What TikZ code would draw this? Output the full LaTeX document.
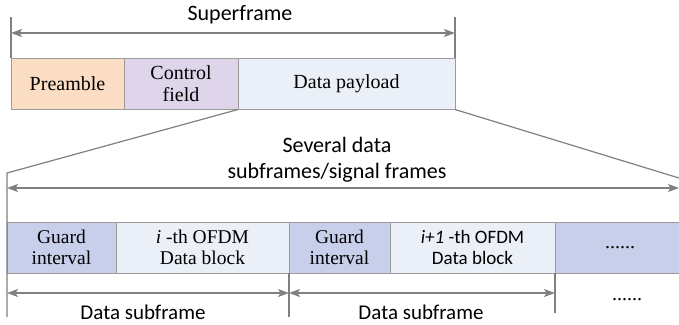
\documentclass[tikz,border=0pt]{standalone}
\usepackage{fontspec}
\setmainfont{Liberation Serif}
\newfontfamily\calib{Carlito}
\usetikzlibrary{arrows.meta}

\definecolor{preamblefill}{RGB}{251,221,196}
\definecolor{controlfill}{RGB}{222,213,235}
\definecolor{payloadfill}{RGB}{235,240,248}
\definecolor{guardfill}{RGB}{200,207,234}
\definecolor{boxline}{RGB}{155,155,155}
\definecolor{dimline}{RGB}{128,128,128}

\tikzset{
  field/.style={draw=boxline, line width=0.9pt, inner sep=0pt, outer sep=0pt,
    align=center, font=\fontsize{20}{22}\selectfont},
  dimension/.style={draw=dimline, line width=1.4pt,
    {Stealth[length=11pt,width=8pt,inset=2.5pt]}-{Stealth[length=11pt,width=8pt,inset=2.5pt]}},
  guide/.style={draw=dimline, line width=1.2pt},
  sanslabel/.style={font=\calib\fontsize{22}{26}\selectfont, align=center, inner sep=0pt},
}

\begin{document}
\begin{tikzpicture}[x=1pt, y=-1pt]
  \useasboundingbox (0,0) rectangle (679,324);
  \clip (0,0) rectangle (679,324);

  % superframe fields
  \node[field, fill=preamblefill, minimum width=113pt, minimum height=51.5pt] (pre) at (67.5,83.75) {Preamble};
  \node[field, fill=controlfill, minimum width=114pt, minimum height=51.5pt] (ctrl) at (181,83.75) {Control\\field};
  \node[field, fill=payloadfill, minimum width=217pt, minimum height=51.5pt] (pay) at (346.5,83.75) {Data payload};

  % superframe extent
  \coordinate (sl) at (11,17);
  \coordinate (sr) at (455,17);
  \draw[guide] (sl) -- (pre.north west);
  \draw[guide] (sr) -- (pay.north east);
  \coordinate (al) at (11,33);
  \coordinate (ar) at (455,33);
  \draw[dimension] (al) -- (ar);
  \node[sanslabel] (suptxt) at (240,15) {Superframe};

  % data subframes
  \node[field, fill=guardfill, minimum width=109pt, minimum height=51pt, font=\fontsize{19.5}{21}\selectfont] (g1) at (61.5,247.5) {Guard\\interval};
  \node[field, fill=payloadfill, minimum width=173pt, minimum height=51pt, font=\fontsize{19.5}{21}\selectfont] (d1) at (202.5,247.5) {\textit{i} -th OFDM\\Data block};
  \node[field, fill=guardfill, minimum width=101pt, minimum height=51pt, font=\fontsize{19.5}{21}\selectfont] (g2) at (339.5,247.5) {Guard\\interval};
  \node[field, fill=payloadfill, minimum width=165pt, minimum height=51pt, font=\calib\fontsize{19}{21}\selectfont] (d2) at (472.5,247.5) {\textit{i+1} -th OFDM\\Data block};
  \node[field, fill=guardfill, minimum width=130pt, minimum height=51pt] (more) at (620,247.5) {......};

  % zoom-out lines from the payload
  \coordinate (fl) at (7,173);
  \coordinate (fr) at (679,178);
  \coordinate (lb) at (7,317);
  \draw[guide] (pay.south west) -- (fl) -- (lb);
  \draw[guide] (pay.south east) -- (fr);

  \coordinate (bl) at (7,188);
  \coordinate (br) at (679,188);
  \draw[dimension] (bl) -- (br);
  \node[sanslabel] (sevtxt) at (337,160) {Several data\\subframes/signal frames};

  % subframe extents
  \coordinate (m1) at (289,317);
  \coordinate (m2) at (555,313);
  \draw[guide] (d1.south east) -- (m1);
  \draw[guide] (d2.south east) -- (m2);
  \coordinate (s1l) at (7,293);
  \coordinate (s1r) at (289,293);
  \coordinate (s2r) at (555,293);
  \draw[dimension] (s1l) -- (s1r);
  \draw[dimension] (s1r) -- (s2r);
  \node[sanslabel, font=\calib\fontsize{21}{24}\selectfont] (sub1) at (143,312) {Data subframe};
  \node[sanslabel, font=\calib\fontsize{21}{24}\selectfont] (sub2) at (421,312) {Data subframe};
  \node[inner sep=0pt, font=\fontsize{20}{22}\selectfont] (moredots) at (627,300) {......};
\end{tikzpicture}
\end{document}
